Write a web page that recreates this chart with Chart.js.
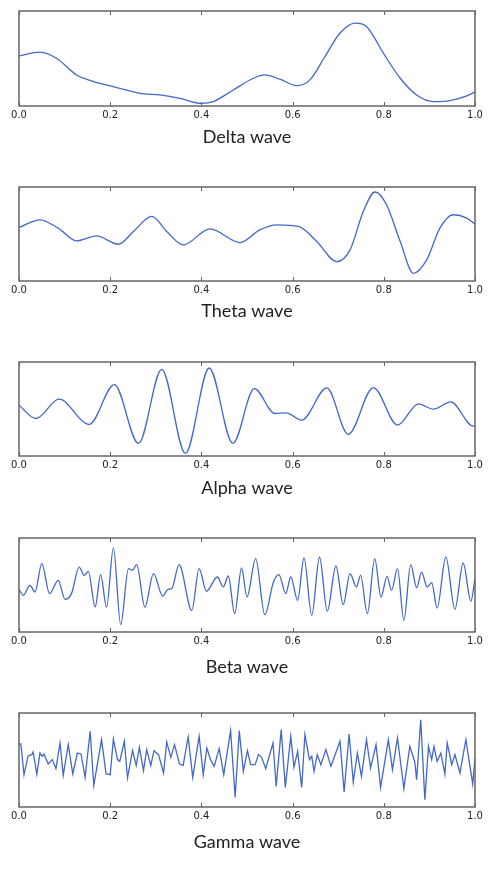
<!DOCTYPE html>
<html>
<head>
<meta charset="utf-8">
<script src="https://cdn.jsdelivr.net/npm/chart.js@4/dist/chart.umd.min.js"></script>
<style>
  html, body { margin: 0; padding: 0; background: #fff; }
  body { width: 500px; height: 872px; position: relative; overflow: hidden; }
  .panel { position: absolute; left: 0; width: 500px; }
</style>
</head>
<body>
<div class="panel" id="p0"><canvas id="c0"></canvas></div>
<div class="panel" id="p1"><canvas id="c1"></canvas></div>
<div class="panel" id="p2"><canvas id="c2"></canvas></div>
<div class="panel" id="p3"><canvas id="c3"></canvas></div>
<div class="panel" id="p4"><canvas id="c4"></canvas></div>
<script>
// ---- Data (time 0..1, amplitude as fraction of panel height) ----
const waveNames = ["Delta wave", "Theta wave", "Alpha wave", "Beta wave", "Gamma wave"];
const xTicks = [0.0, 0.2, 0.4, 0.6, 0.8, 1.0];

const deltaX = [0, 0.046, 0.083, 0.126, 0.152, 0.2, 0.265, 0.309, 0.353, 0.40, 0.426, 0.47, 0.514, 0.539, 0.572, 0.609, 0.638, 0.671, 0.704, 0.737, 0.762, 0.799, 0.836, 0.872, 0.909, 0.945, 0.982, 1.0];
const deltaY = [0.528, 0.567, 0.50, 0.327, 0.275, 0.211, 0.134, 0.116, 0.081, 0.028, 0.046, 0.169, 0.292, 0.327, 0.282, 0.215, 0.275, 0.521, 0.768, 0.873, 0.838, 0.556, 0.292, 0.116, 0.046, 0.056, 0.106, 0.148];

const thetaX = [0, 0.046, 0.086, 0.126, 0.17, 0.218, 0.251, 0.291, 0.324, 0.360, 0.419, 0.485, 0.528, 0.565, 0.613, 0.653, 0.697, 0.726, 0.755, 0.781, 0.806, 0.836, 0.865, 0.894, 0.923, 0.952, 0.982, 1.0];
const thetaY = [0.569, 0.651, 0.562, 0.427, 0.480, 0.391, 0.527, 0.687, 0.527, 0.384, 0.555, 0.409, 0.544, 0.598, 0.580, 0.420, 0.206, 0.331, 0.740, 0.947, 0.811, 0.420, 0.082, 0.224, 0.562, 0.705, 0.669, 0.605];

const alphaX = [0, 0.037, 0.088, 0.154, 0.209, 0.262, 0.313, 0.365, 0.417, 0.469, 0.516, 0.561, 0.586, 0.620, 0.675, 0.722, 0.777, 0.830, 0.876, 0.909, 0.947, 0.996, 1.0];
const alphaY = [0.541, 0.399, 0.604, 0.336, 0.760, 0.134, 0.922, 0.028, 0.936, 0.134, 0.717, 0.452, 0.459, 0.382, 0.724, 0.230, 0.728, 0.329, 0.555, 0.498, 0.576, 0.318, 0.318];

const betaX = [0, 0.0095, 0.024, 0.035, 0.050, 0.067, 0.086, 0.101, 0.115, 0.132, 0.143, 0.152, 0.167, 0.179, 0.192, 0.207, 0.223, 0.240, 0.249, 0.258, 0.276, 0.295, 0.315, 0.327, 0.335, 0.351, 0.379, 0.395, 0.411, 0.435, 0.448, 0.459, 0.473, 0.488, 0.500, 0.519, 0.539, 0.558, 0.570, 0.585, 0.596, 0.611, 0.625, 0.642, 0.659, 0.676, 0.695, 0.711, 0.726, 0.740, 0.749, 0.764, 0.780, 0.794, 0.807, 0.817, 0.830, 0.844, 0.859, 0.872, 0.883, 0.895, 0.905, 0.917, 0.936, 0.956, 0.974, 0.991, 1.0];
const betaY = [0.454, 0.39, 0.496, 0.426, 0.727, 0.408, 0.55, 0.348, 0.408, 0.691, 0.603, 0.645, 0.266, 0.61, 0.266, 0.894, 0.078, 0.674, 0.656, 0.716, 0.266, 0.621, 0.383, 0.454, 0.461, 0.716, 0.23, 0.674, 0.433, 0.585, 0.479, 0.596, 0.195, 0.681, 0.372, 0.78, 0.184, 0.532, 0.61, 0.408, 0.585, 0.337, 0.787, 0.177, 0.798, 0.22, 0.702, 0.291, 0.621, 0.479, 0.603, 0.195, 0.78, 0.372, 0.592, 0.443, 0.674, 0.124, 0.716, 0.472, 0.638, 0.479, 0.525, 0.255, 0.798, 0.241, 0.734, 0.326, 0.567];

const gammaX = [0, 0.004, 0.011, 0.020, 0.028, 0.031, 0.039, 0.046, 0.051, 0.055, 0.064, 0.073, 0.081, 0.090, 0.097, 0.108, 0.118, 0.128, 0.136, 0.145, 0.156, 0.164, 0.181, 0.191, 0.200, 0.207, 0.216, 0.221, 0.231, 0.238, 0.249, 0.257, 0.264, 0.273, 0.280, 0.289, 0.296, 0.306, 0.317, 0.324, 0.333, 0.341, 0.352, 0.360, 0.371, 0.381, 0.395, 0.404, 0.412, 0.420, 0.428, 0.439, 0.449, 0.464, 0.474, 0.483, 0.492, 0.501, 0.508, 0.518, 0.525, 0.532, 0.541, 0.557, 0.564, 0.575, 0.584, 0.596, 0.603, 0.611, 0.620, 0.627, 0.637, 0.642, 0.647, 0.654, 0.662, 0.673, 0.684, 0.692, 0.704, 0.713, 0.724, 0.733, 0.742, 0.751, 0.762, 0.771, 0.783, 0.793, 0.810, 0.819, 0.830, 0.844, 0.857, 0.868, 0.872, 0.881, 0.890, 0.898, 0.905, 0.910, 0.917, 0.925, 0.934, 0.939, 0.949, 0.956, 0.967, 0.980, 0.995, 1.0];
const gammaY = [0.670, 0.67, 0.344, 0.546, 0.557, 0.585, 0.351, 0.574, 0.539, 0.564, 0.457, 0.504, 0.408, 0.681, 0.337, 0.663, 0.351, 0.574, 0.564, 0.316, 0.805, 0.230, 0.716, 0.351, 0.344, 0.723, 0.504, 0.486, 0.699, 0.309, 0.599, 0.443, 0.635, 0.387, 0.610, 0.443, 0.599, 0.557, 0.362, 0.691, 0.528, 0.663, 0.457, 0.443, 0.745, 0.316, 0.752, 0.344, 0.628, 0.504, 0.433, 0.621, 0.344, 0.812, 0.103, 0.812, 0.379, 0.599, 0.450, 0.450, 0.557, 0.528, 0.408, 0.681, 0.220, 0.823, 0.209, 0.752, 0.422, 0.592, 0.209, 0.770, 0.504, 0.539, 0.379, 0.557, 0.450, 0.610, 0.433, 0.539, 0.699, 0.160, 0.777, 0.266, 0.574, 0.326, 0.716, 0.415, 0.663, 0.209, 0.716, 0.397, 0.734, 0.195, 0.645, 0.479, 0.291, 0.929, 0.078, 0.645, 0.504, 0.645, 0.486, 0.574, 0.351, 0.681, 0.450, 0.557, 0.362, 0.716, 0.245, 0.521];

const seriesX = [deltaX, thetaX, alphaX, betaX, gammaX];
const seriesY = [deltaY, thetaY, alphaY, betaY, gammaY];

// ---- Layout / style ----
const plotTop    = [11, 187, 362, 538, 713];
const plotBottom = [106, 281, 456, 632, 807];
const titleMid   = [137, 311, 488, 667, 842];
const smoothMode = ['monotone', 'monotone', 'monotone', 'monotone', 'none'];
const LINE = '#4368c9';
const FRAME = '#666666';
const PADTOP = 6;

const framePlugin = {
  id: 'frame',
  afterDatasetsDraw(chart) {
    const {ctx, chartArea: a, scales} = chart;
    ctx.save();
    ctx.strokeStyle = FRAME;
    ctx.lineWidth = 1.5;
    ctx.strokeRect(a.left, a.top, a.right - a.left, a.bottom - a.top);
    ctx.lineWidth = 1;
    ctx.beginPath();
    xTicks.forEach(t => {
      const px = Math.round(scales.x.getPixelForValue(t)) + 0.5;
      ctx.moveTo(px, a.top); ctx.lineTo(px, a.top + 4);
      ctx.moveTo(px, a.bottom); ctx.lineTo(px, a.bottom - 4);
    });
    ctx.stroke();
    ctx.restore();
  }
};

for (let i = 0; i < 5; i++) {
  const top = plotTop[i] - PADTOP;
  const h = (titleMid[i] + 11) - top;
  const plotH = plotBottom[i] - plotTop[i];
  const div = document.getElementById('p' + i);
  div.style.top = top + 'px';
  div.style.height = h + 'px';
  const data = seriesX[i].map((x, k) => ({x, y: seriesY[i][k]}));
  new Chart(document.getElementById('c' + i), {
    type: 'line',
    data: {
      datasets: [{
        data,
        borderColor: LINE,
        borderWidth: 1.3,
        pointRadius: 0,
        fill: false,
        cubicInterpolationMode: smoothMode[i] === 'monotone' ? 'monotone' : 'default',
        tension: 0
      }]
    },
    options: {
      responsive: true,
      maintainAspectRatio: false,
      animation: false,
      events: [],
      layout: { padding: { left: 19, right: 25, top: PADTOP, bottom: 0 } },
      plugins: { legend: { display: false }, tooltip: { enabled: false } },
      scales: {
        x: {
          type: 'linear',
          min: 0, max: 1,
          afterFit: (s) => { s.height = h - PADTOP - plotH; },
          afterBuildTicks: (s) => { s.ticks = xTicks.map(v => ({value: v})); },
          grid: { display: false, drawTicks: false },
          border: { display: false },
          ticks: {
            padding: 3,
            maxRotation: 0,
            color: '#222',
            font: { family: 'DejaVu Sans', size: 10 },
            callback: (v) => Number(v).toFixed(1)
          },
          title: {
            display: true,
            text: waveNames[i],
            color: '#222',
            font: { family: 'Lato', size: 18 },
            padding: { top: 0, bottom: 0 }
          }
        },
        y: { display: false, min: 0, max: 1 }
      }
    },
    plugins: [framePlugin]
  });
}
</script>
</body>
</html>
